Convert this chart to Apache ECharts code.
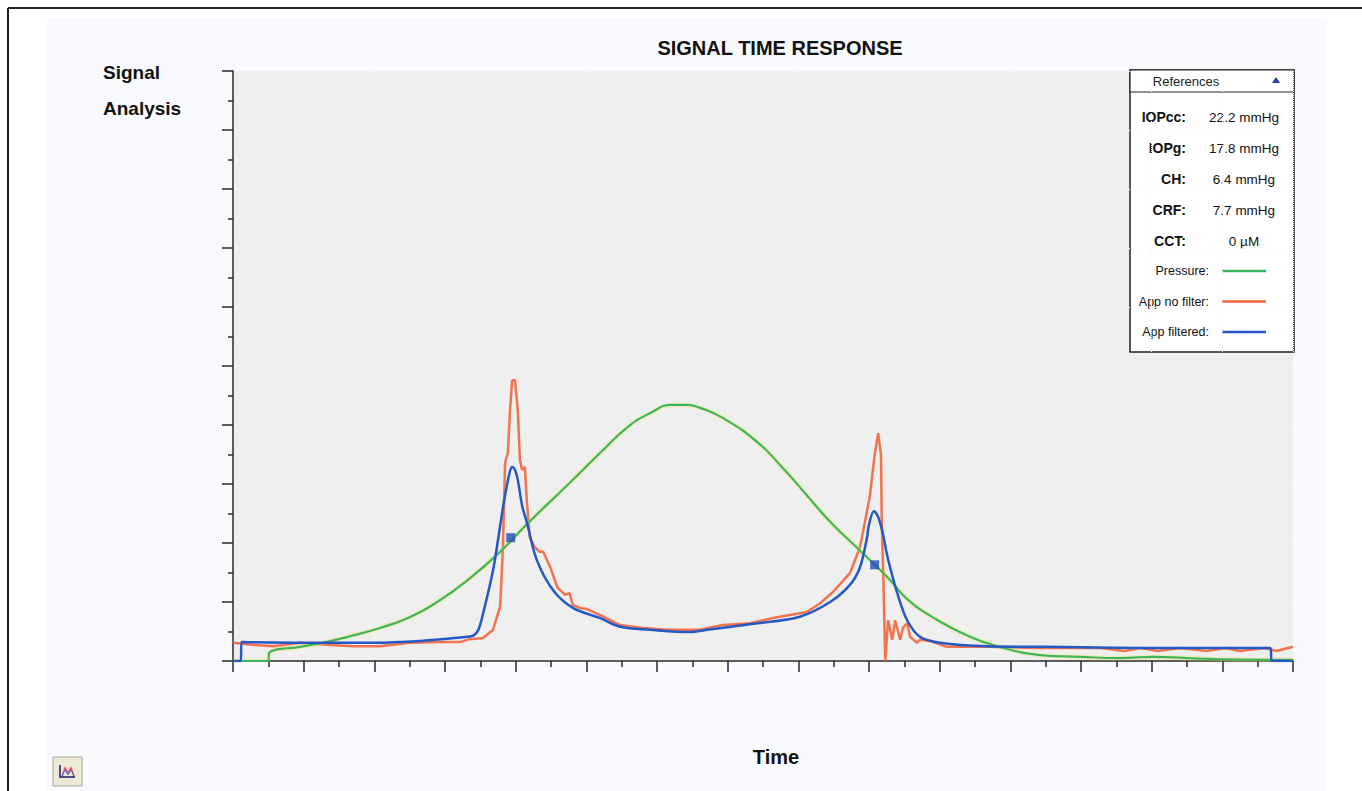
<!DOCTYPE html>
<html>
<head>
<meta charset="utf-8">
<title>Signal Time Response</title>
<script src="https://cdn.jsdelivr.net/npm/echarts@6/dist/echarts.min.js"></script>
<style>
  html, body { margin: 0; padding: 0; background: #fff; }
  #chart { width: 1362px; height: 791px; }
</style>
</head>
<body>
<div id="chart"></div>
<script>
// curves as [time, signal] pairs
const pressure = [
  [0, 0], [0.49, 0], [0.52, 0.15], [0.95, 0.24], [1.27, 0.31], [1.66, 0.42], [2.08, 0.56],
  [2.5, 0.74], [2.89, 1.0], [3.35, 1.4], [3.78, 1.85], [4.16, 2.32], [4.73, 2.98],
  [5.19, 3.52], [5.58, 3.96], [5.9, 4.2], [6.21, 4.34], [6.43, 4.34], [6.61, 4.29],
  [6.93, 4.12], [7.42, 3.71], [7.78, 3.27], [8.12, 2.81], [8.45, 2.36], [8.83, 1.92],
  [9.11, 1.6], [9.3, 1.37], [9.54, 1.05], [9.96, 0.7], [10.43, 0.41], [10.76, 0.27],
  [11.42, 0.1], [11.99, 0.07], [12.55, 0.05], [13.02, 0.07], [13.5, 0.05], [13.97, 0.03],
  [14.72, 0.02], [15, 0.02]
]

const appNoFilter = [
  [0, 0.31], [0.31, 0.27], [0.57, 0.25], [0.95, 0.31], [1.37, 0.27], [1.7, 0.25], [2.08, 0.25],
  [2.5, 0.31], [2.93, 0.32], [3.21, 0.32], [3.35, 0.37], [3.54, 0.39], [3.68, 0.53],
  [3.78, 0.92], [3.82, 1.93], [3.85, 3.36], [3.89, 3.53], [3.92, 4.25], [3.95, 4.76],
  [3.99, 4.76], [4.03, 4.25], [4.06, 3.41], [4.09, 3.24], [4.13, 3.29], [4.16, 2.68],
  [4.2, 2.1], [4.27, 1.93], [4.34, 1.85], [4.39, 1.85], [4.49, 1.59], [4.59, 1.25],
  [4.63, 1.2], [4.7, 1.12], [4.76, 1.15], [4.81, 0.95], [4.91, 0.9], [5.01, 0.88], [5.19, 0.78],
  [5.48, 0.61], [5.8, 0.56], [6.14, 0.53], [6.61, 0.53], [6.93, 0.61], [7.32, 0.64],
  [7.64, 0.73], [8.12, 0.83], [8.31, 0.98], [8.49, 1.17], [8.73, 1.49], [8.87, 1.92],
  [8.92, 2.22], [8.97, 2.53], [9.01, 2.78], [9.08, 3.49], [9.13, 3.86], [9.17, 3.49],
  [9.18, 2.39], [9.2, 1.54], [9.23, 0], [9.24, 0], [9.27, 0.69], [9.33, 0.36],
  [9.37, 0.69], [9.44, 0.36], [9.48, 0.56], [9.54, 0.64], [9.58, 0.41], [9.68, 0.31],
  [9.72, 0.36], [9.86, 0.34], [10.1, 0.24], [10.67, 0.24], [11.38, 0.22], [12.27, 0.22],
  [12.62, 0.17], [12.84, 0.22], [13.09, 0.17], [13.4, 0.22], [13.78, 0.17], [14.04, 0.22],
  [14.25, 0.17], [14.6, 0.22], [14.77, 0.17], [14.86, 0.2], [15, 0.24]
]

const appFiltered = [
  [0, 0], [0.11, 0], [0.12, 0.32], [0.99, 0.31], [1.98, 0.31], [2.65, 0.34], [3.31, 0.41],
  [3.4, 0.43], [3.47, 0.52], [3.54, 0.81], [3.68, 1.54], [3.75, 2.05], [3.82, 2.6],
  [3.88, 3.0], [3.92, 3.22], [3.95, 3.29], [3.99, 3.24], [4.03, 3.07], [4.09, 2.64],
  [4.16, 2.34], [4.3, 1.71], [4.53, 1.2], [4.81, 0.9], [5.19, 0.73], [5.48, 0.58],
  [5.9, 0.53], [6.47, 0.49], [6.71, 0.53], [7.42, 0.64], [8.02, 0.75], [8.45, 1.0],
  [8.73, 1.29], [8.87, 1.58], [8.97, 2.08], [9.0, 2.31], [9.07, 2.54], [9.13, 2.44],
  [9.2, 2.14], [9.25, 1.83], [9.3, 1.58], [9.4, 1.15], [9.54, 0.69], [9.72, 0.41],
  [10.0, 0.31], [10.67, 0.25], [11.52, 0.24], [13.02, 0.22], [14.68, 0.22], [14.7, 0], [15, 0]
]

// square markers on the filtered curve
const filteredMarks = [[3.93, 2.09], [9.08, 1.63]]

// reference panel
const refLabels = ['IOPcc:', 'IOPg:', 'CH:', 'CRF:', 'CCT:']
const refValues = ['22.2 mmHg', '17.8 mmHg', '6.4 mmHg', '7.7 mmHg', '0 µM']
const seriesNames = ['Pressure:', 'App no filter:', 'App filtered:']
const seriesColors = ['#3cb55e', '#f2653c', '#2458c4']

const font = '"Liberation Sans", Arial, sans-serif'

const panel = []
panel.push({
  type: 'rect', shape: { x: 1130, y: 70, width: 164, height: 282 },
  style: { fill: '#fff', stroke: '#222', lineWidth: 1.5 }
})
panel.push({
  type: 'rect', shape: { x: 1130, y: 70, width: 164, height: 22 },
  style: { fill: '#fff', stroke: '#222', lineWidth: 1.2 }
})
panel.push({
  type: 'text', x: 1186, y: 81,
  style: { text: 'References', font: '13px ' + font, fill: '#222', align: 'center', verticalAlign: 'middle' }
})
panel.push({
  type: 'polygon', shape: { points: [[1272, 83], [1280, 83], [1276, 77]] },
  style: { fill: '#1f3fb0' }
})
refLabels.forEach((lbl, i) => {
  const y = 117 + i * 31
  panel.push({
    type: 'text', x: 1186, y: y,
    style: { text: lbl, font: 'bold 14px ' + font, fill: '#111', align: 'right', verticalAlign: 'middle' }
  })
  panel.push({
    type: 'text', x: 1244, y: y,
    style: { text: refValues[i], font: '13.5px ' + font, fill: '#111', align: 'center', verticalAlign: 'middle' }
  })
})
seriesNames.forEach((name, i) => {
  const y = 271 + i * 30.5
  panel.push({
    type: 'text', x: 1209, y: y,
    style: { text: name, font: '12.5px ' + font, fill: '#111', align: 'right', verticalAlign: 'middle' }
  })
  panel.push({
    type: 'line', shape: { x1: 1222, y1: y, x2: 1266, y2: y },
    style: { stroke: seriesColors[i], lineWidth: 2.5 }
  })
})

const chart = echarts.init(document.getElementById('chart'), null, { renderer: 'svg' })

chart.setOption({
  animation: false,
  backgroundColor: '#fff',
  title: {
    text: 'SIGNAL TIME RESPONSE',
    left: 775, top: 33, textAlign: 'center',
    textStyle: { fontFamily: font, fontSize: 20, fontWeight: 'bold', color: '#111' }
  },
  grid: {
    left: 233, right: 69, top: 71, bottom: 130,
    show: true, backgroundColor: '#efefef', borderWidth: 0
  },
  xAxis: {
    type: 'value', min: 0, max: 15, interval: 1,
    axisLine: { lineStyle: { color: '#2a2a2a', width: 1.5 } },
    axisTick: { length: 11, lineStyle: { color: '#2a2a2a', width: 1.5 } },
    minorTick: { show: true, splitNumber: 2, length: 6, lineStyle: { color: '#2a2a2a', width: 1.5 } },
    axisLabel: { show: false },
    splitLine: { show: true, lineStyle: { color: '#f6f6f6', width: 1, type: 'dotted' } }
  },
  yAxis: {
    type: 'value', min: 0, max: 10, interval: 1,
    axisLine: { show: true, lineStyle: { color: '#2a2a2a', width: 1.5 } },
    axisTick: { show: true, length: 11, lineStyle: { color: '#2a2a2a', width: 1.5 } },
    minorTick: { show: true, splitNumber: 2, length: 5, lineStyle: { color: '#2a2a2a', width: 1.5 } },
    axisLabel: { show: false },
    splitLine: { show: true, lineStyle: { color: '#f6f6f6', width: 1, type: 'dotted' } }
  },
  series: [
    {
      name: 'App no filter', type: 'line', data: appNoFilter,
      showSymbol: false, lineStyle: { color: seriesColors[1], width: 2.5, opacity: 0.9 }, z: 2
    },
    {
      name: 'Pressure', type: 'line', data: pressure, smooth: 0.5,
      showSymbol: false,
      lineStyle: { color: seriesColors[0], width: 2.2, shadowColor: 'rgba(225,225,60,0.8)', shadowBlur: 2 }, z: 3
    },
    {
      name: 'App filtered', type: 'line', data: appFiltered, smooth: 0.35,
      showSymbol: false, lineStyle: { color: seriesColors[2], width: 2.5 }, z: 4
    },
    {
      name: 'marks', type: 'scatter', data: filteredMarks,
      symbol: 'rect', symbolSize: 9, itemStyle: { color: '#1f4fb8' }, z: 5
    }
  ],
  graphic: [
    // outer frame and panel
    { type: 'rect', z: -10, shape: { x: 47, y: 18, width: 1280, height: 780 }, style: { fill: '#f9fafd' } },
    { type: 'line', shape: { x1: 8, y1: 8, x2: 1362, y2: 8 }, style: { stroke: '#222', lineWidth: 2 } },
    { type: 'line', shape: { x1: 8, y1: 8, x2: 8, y2: 791 }, style: { stroke: '#222', lineWidth: 2 } },
    {
      type: 'text', x: 103, y: 72,
      style: { text: 'Signal', font: 'bold 19px ' + font, fill: '#111', verticalAlign: 'middle' }
    },
    {
      type: 'text', x: 103, y: 108,
      style: { text: 'Analysis', font: 'bold 19px ' + font, fill: '#111', verticalAlign: 'middle' }
    },
    {
      type: 'text', x: 776, y: 757,
      style: { text: 'Time', font: 'bold 20px ' + font, fill: '#111', align: 'center', verticalAlign: 'middle' }
    },
    // little chart button bottom left
    { type: 'rect', shape: { x: 53, y: 757, width: 29, height: 29 }, style: { fill: '#ece9d8', stroke: '#a9a696', lineWidth: 1 } },
    { type: 'polyline', shape: { points: [[60, 765], [60, 777], [75, 777]] }, style: { stroke: '#1a1a60', lineWidth: 1.5, fill: null } },
    { type: 'polyline', shape: { points: [[62, 776], [65, 768], [68, 773], [71, 768], [74, 776]] }, style: { stroke: '#e8505a', lineWidth: 1.5, fill: null } },
    { type: 'polyline', shape: { points: [[62, 776], [65, 770], [68, 775], [71, 770], [74, 776]] }, style: { stroke: '#3d6fd0', lineWidth: 1, fill: null } },
    ...panel
  ]
})
</script>
</body>
</html>
